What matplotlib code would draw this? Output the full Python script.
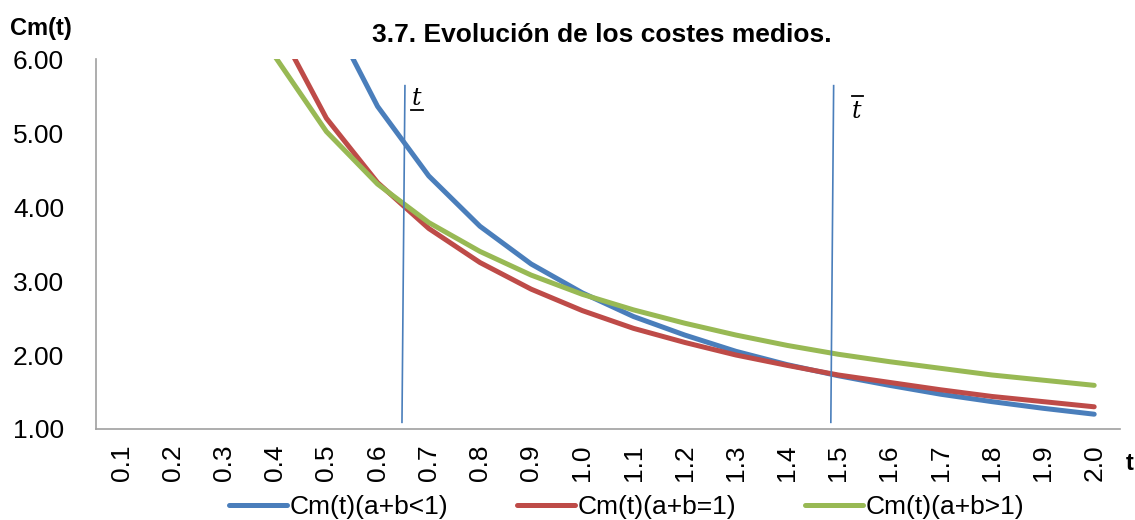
import numpy as np
import matplotlib.pyplot as plt

plt.rcParams['font.family'] = ['Liberation Sans', 'DejaVu Sans']

# Valores de t y costes medios para cada caso de rendimientos
t = ['0.1', '0.2', '0.3', '0.4', '0.5', '0.6', '0.7', '0.8', '0.9', '1.0',
     '1.1', '1.2', '1.3', '1.4', '1.5', '1.6', '1.7', '1.8', '1.9', '2.0']
cm_menor = [49.4, 20.9, 12.7, 8.80, 6.70, 5.36, 4.42, 3.74, 3.23, 2.84,
            2.52, 2.27, 2.05, 1.87, 1.72, 1.59, 1.47, 1.37, 1.28, 1.20]
cm_igual = [26.0, 13.0, 8.67, 6.50, 5.20, 4.33, 3.71, 3.25, 2.89, 2.60,
            2.36, 2.17, 2.00, 1.86, 1.73, 1.63, 1.53, 1.44, 1.37, 1.30]
cm_mayor = [19.1, 10.7, 7.67, 6.03, 5.02, 4.31, 3.79, 3.40, 3.08, 2.82,
            2.61, 2.43, 2.27, 2.13, 2.01, 1.91, 1.82, 1.73, 1.66, 1.59]

# Marcas t (inferior) y t barra (superior), en posicion de categoria
t_inf = (5.535, 5.477)
t_sup = (13.91, 13.855)
y_marca = (5.64, 1.09)

azul, rojo, verde = '#4a7ebb', '#be4b48', '#98b954'

fig = plt.figure(figsize=(11.35, 5.2), dpi=100)
ax = fig.add_axes([0.0846, 0.175, 0.902, 0.7115])

x = np.arange(len(t))
ax.plot(x, cm_menor, color=azul, lw=3.6, label='Cm(t)(a+b<1)', solid_capstyle='round')
ax.plot(x, cm_igual, color=rojo, lw=3.6, label='Cm(t)(a+b=1)', solid_capstyle='round')
ax.plot(x, cm_mayor, color=verde, lw=3.6, label='Cm(t)(a+b>1)', solid_capstyle='round')

ax.plot(t_inf, y_marca, color=azul, lw=1.2)
ax.plot(t_sup, y_marca, color=azul, lw=1.2)
ax.text(5.66, 5.38, 't', fontsize=17, style='italic', family='DejaVu Serif',
        ha='left', va='baseline')
ax.plot([5.65, 5.88], [5.31, 5.31], color='black', lw=1.3)
ax.text(14.26, 5.2, 't', fontsize=17, style='italic', family='DejaVu Serif',
        ha='left', va='baseline')
ax.plot([14.26, 14.49], [5.5, 5.5], color='black', lw=1.3)

ax.set_xlim(-0.5, len(t) - 0.5)
ax.set_ylim(1, 6)
ax.set_xticks(x)
ax.set_xticklabels(t, rotation=90, fontsize=19)
ax.set_yticks(np.arange(1, 7))
ax.set_yticklabels([f'{v:.2f}' for v in range(1, 7)], fontsize=19)
ax.tick_params(axis='x', length=0, pad=11)
ax.tick_params(axis='y', length=0, pad=23)

for s in ['top', 'right']:
    ax.spines[s].set_visible(False)
for s in ['left', 'bottom']:
    ax.spines[s].set_color('#a0a0a0')
    ax.spines[s].set_linewidth(1.2)

fig.text(0.530, 0.932, '3.7. Evolución de los costes medios.', fontsize=19,
         fontweight='bold', ha='center', va='center')
fig.text(0.009, 0.945, 'Cm(t)', fontsize=17, fontweight='bold', ha='left', va='center')
fig.text(0.999, 0.108, 't', fontsize=17, fontweight='bold', ha='right', va='center')

fig.legend(loc='center', bbox_to_anchor=(0.552, 0.025), ncol=3, frameon=False,
           fontsize=19, handlelength=2.2, handletextpad=0.1, columnspacing=2.6,
           borderaxespad=0, borderpad=0)

fig.savefig('out.png', dpi=100)
